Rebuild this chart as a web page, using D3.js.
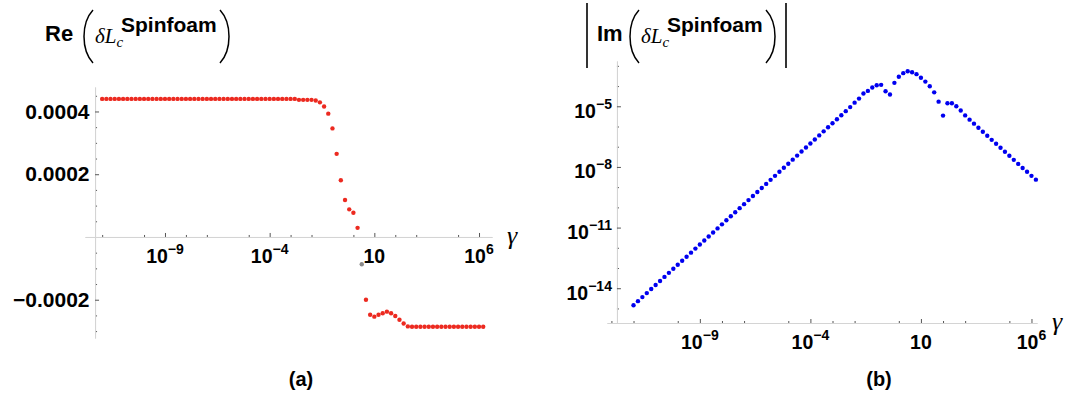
<!DOCTYPE html>
<html>
<head>
<meta charset="utf-8">
<script src="https://cdn.jsdelivr.net/npm/d3@7"></script>
<style>
  body { margin: 0; background: #fff; }
  .domain { stroke: #d4d4d4; }
  .tick line { stroke: #555; }
</style>
</head>
<body>
<div id="chart"></div>
<script>
// sample points: log10(gamma)
const gammaExp = [
  -12, -11.8, -11.6, -11.4, -11.2, -11, -10.8, -10.6, -10.4, -10.2,
  -10, -9.8, -9.6, -9.4, -9.2, -9, -8.8, -8.6, -8.4, -8.2,
  -8, -7.8, -7.6, -7.4, -7.2, -7, -6.8, -6.6, -6.4, -6.2,
  -6, -5.8, -5.6, -5.4, -5.2, -5, -4.8, -4.6, -4.4, -4.2,
  -4, -3.8, -3.6, -3.4, -3.2, -3, -2.8, -2.6, -2.4, -2.2,
  -2, -1.8, -1.6, -1.4, -1.2, -1, -0.8, -0.6, -0.4, -0.2,
  0, 0.2, 0.4, 0.6, 0.8, 1, 1.2, 1.4, 1.6, 1.8,
  2, 2.2, 2.4, 2.6, 2.8, 3, 3.2, 3.4, 3.6, 3.8,
  4, 4.2, 4.4, 4.6, 4.8, 5, 5.2, 5.4, 5.6, 5.8,
  6, 6.2
]

// Re(dL_c) - panel (a)
const reValues = [
  0.000440, 0.000440, 0.000440, 0.000440, 0.000440, 0.000440, 0.000440, 0.000440, 0.000440, 0.000440,
  0.000440, 0.000440, 0.000440, 0.000440, 0.000440, 0.000440, 0.000440, 0.000440, 0.000440, 0.000440,
  0.000440, 0.000440, 0.000440, 0.000440, 0.000440, 0.000440, 0.000440, 0.000440, 0.000440, 0.000440,
  0.000440, 0.000440, 0.000440, 0.000440, 0.000440, 0.000440, 0.000440, 0.000440, 0.000440, 0.000440,
  0.000440, 0.000440, 0.000440, 0.000440, 0.000440, 0.000440, 0.000440, 0.000437, 0.000437, 0.000437,
  0.000437, 0.000435, 0.000429, 0.000416, 0.000393, 0.000346, 0.000265, 0.000181, 0.000118, 0.000088,
  0.000077, 0.000029, null, -0.000200, -0.000248, -0.000254, -0.000248, -0.000243, -0.000238, -0.000243,
  -0.000252, -0.000264, -0.000276, -0.000285, -0.000286, -0.000286, -0.000286, -0.000286, -0.000286, -0.000286,
  -0.000286, -0.000286, -0.000286, -0.000286, -0.000286, -0.000286, -0.000286, -0.000286, -0.000286, -0.000286,
  -0.000286, -0.000286
]
// the one grey point in panel (a)
const reGreyExp = [0.4]
const reGreyValues = [-0.000087]

// log10 |Im(dL_c)| - panel (b)
const imLog10 = [
  -14.84, -14.64, -14.44, -14.24, -14.04, -13.84, -13.64, -13.44, -13.24, -13.04,
  -12.84, -12.64, -12.44, -12.24, -12.04, -11.84, -11.64, -11.44, -11.24, -11.04,
  -10.84, -10.64, -10.44, -10.24, -10.04, -9.84, -9.64, -9.44, -9.24, -9.04,
  -8.84, -8.64, -8.44, -8.24, -8.04, -7.84, -7.64, -7.44, -7.24, -7.04,
  -6.84, -6.64, -6.44, -6.24, -6.04, -5.84, -5.64, -5.44, -5.24, -5.04,
  -4.82, -4.62, -4.37, -4.24, -4.07, -3.96, -3.94, -4.26, -4.42, -3.84,
  -3.54, -3.36, -3.27, -3.32, -3.41, -3.59, -3.78, -4.01, -4.31, -4.77,
  -5.46, -4.85, -4.85, -5.00, -5.21, -5.45, -5.66, -5.86, -6.06, -6.26,
  -6.46, -6.66, -6.85, -7.05, -7.25, -7.45, -7.65, -7.85, -8.05, -8.24,
  -8.44, -8.63
]

// ticks
const xMajorExp = [-9, -4, 1, 6]
const xMinorExp = [-13, -12, -10, -8, -7, -5, -3, -2, 0, 2, 3, 5]
const reMajor = [-0.0002, 0.0002, 0.0004]
const reMinor = [-0.0003, -0.00025, -0.00015, -0.0001, -0.00005, 0.00005, 0.0001, 0.00015, 0.00025, 0.0003, 0.00035, 0.00045]
const imMajorExp = [-14, -11, -8, -5]
const imMinorExp = [-15, -13, -12, -10, -9, -7, -6, -4, -3]

const SANS = '"Liberation Sans", Arial, sans-serif'
const SERIF = '"Liberation Serif", "Times New Roman", serif'
const RED = '#ec2a20'
const BLUE = '#0000f0'

const svg = d3.select('#chart').append('svg')
    .attr('width', 1080)
    .attr('height', 397)
    .style('font-family', SANS)

function powLabel(text, e) {
    text.append('tspan').text('10')
    if (e !== 1) {
        text.append('tspan')
            .attr('font-size', 14)
            .attr('dy', -9)
            .text(e < 0 ? '\u2212' + (-e) : e)
    }
}

function inRange(scale, vals) {
    const [a, b] = scale.domain()
    return vals.filter(v => v >= Math.min(a, b) && v <= Math.max(a, b))
}

function xAxis(x, axisY) {
    const g = svg.append('g').attr('transform', `translate(0, ${axisY})`)
    g.append('g')
        .call(d3.axisBottom(x).tickValues(inRange(x, xMinorExp.map(e => 10 ** e)))
            .tickSizeInner(-2).tickSizeOuter(0).tickFormat(''))
    g.append('g')
        .call(d3.axisBottom(x).tickValues(xMajorExp.map(e => 10 ** e))
            .tickSizeInner(-4).tickSizeOuter(0).tickFormat(''))
    g.selectAll('.tick text').remove()

    g.selectAll('text.xl')
        .data(xMajorExp)
        .join('text')
            .attr('class', 'xl')
            .attr('x', d => x(10 ** d))
            .attr('y', 26)
            .attr('text-anchor', 'middle')
            .attr('font-size', 19.5)
            .attr('font-weight', 'bold')
            .each(function(d) { powLabel(d3.select(this), d) })

    g.append('text')
        .attr('x', x.range()[1] + 15)
        .attr('y', 7)
        .attr('font-family', SERIF)
        .attr('font-style', 'italic')
        .attr('font-size', 26)
        .text('\u03b3')
}

function title(x0, label, bars) {
    const g = svg.append('g').attr('fill', '#000')
    const w = label === 'Re' ? 27 : 21
    g.append('text')
        .attr('x', x0).attr('y', 41)
        .attr('font-size', 22).attr('font-weight', 'bold')
        .text(label)
    const p = x0 + w + 9
    g.append('path')
        .attr('d', `M${p + 12},10 C${p},23 ${p},50 ${p + 12},63`)
        .attr('fill', 'none').attr('stroke', '#000').attr('stroke-width', 1.5)
    const t = g.append('text').attr('x', p + 14).attr('y', 43)
        .attr('font-family', SERIF).attr('font-style', 'italic').attr('font-size', 21)
    t.append('tspan').text('\u03b4L')
    t.append('tspan').attr('font-size', 15).attr('dy', 4).text('c')
    g.append('text')
        .attr('x', p + 40).attr('y', 32)
        .attr('font-size', 21).attr('font-weight', 'bold')
        .text('Spinfoam')
    const q = p + 139
    g.append('path')
        .attr('d', `M${q},10 C${q + 12},23 ${q + 12},50 ${q},63`)
        .attr('fill', 'none').attr('stroke', '#000').attr('stroke-width', 1.5)
    if (bars) {
        g.append('line').attr('x1', x0 - 10).attr('x2', x0 - 10).attr('y1', 3).attr('y2', 68)
            .attr('stroke', '#000').attr('stroke-width', 1.6)
        g.append('line').attr('x1', q + 20).attr('x2', q + 20).attr('y1', 3).attr('y2', 68)
            .attr('stroke', '#000').attr('stroke-width', 1.6)
    }
}

// ---------- panel (a) ----------
function panelA() {
    const x = d3.scaleLog().domain([10 ** -12.82, 10 ** 6.62]).range([85, 492])
    const y = d3.scaleLinear().domain([-0.000322, 0.000478]).range([338, 87])
    const axisX = x(10 ** -12.34)

    xAxis(x, y(0))

    const g = svg.append('g').attr('transform', `translate(${axisX}, 0)`)
    g.append('g')
        .call(d3.axisLeft(y).tickValues(reMinor).tickSizeInner(-2).tickSizeOuter(0).tickFormat(''))
    g.append('g')
        .call(d3.axisLeft(y).tickValues(reMajor).tickSizeInner(-4).tickSizeOuter(0)
            .tickPadding(5.5).tickFormat(d => d3.format('.4f')(d).replace('-', '\u2212')))
    g.selectAll('.tick text')
        .attr('font-size', 21)
        .attr('font-weight', 'bold')
        .attr('font-family', SANS)
        .attr('fill', '#000')

    const pts = gammaExp.map((e, i) => ({ g: 10 ** e, v: reValues[i] })).filter(d => d.v !== null)
    svg.append('g').selectAll('circle')
        .data(pts)
        .join('circle')
            .attr('cx', d => x(d.g))
            .attr('cy', d => y(d.v))
            .attr('r', 2.2)
            .attr('fill', RED)

    svg.append('g').selectAll('circle')
        .data(reGreyExp.map((e, i) => ({ g: 10 ** e, v: reGreyValues[i] })))
        .join('circle')
            .attr('cx', d => x(d.g))
            .attr('cy', d => y(d.v))
            .attr('r', 2.2)
            .attr('fill', '#8a8a8a')

    title(45, 'Re', false)
}

// ---------- panel (b) ----------
function panelB() {
    const x = d3.scaleLog().domain([10 ** -13.2, 10 ** 6.25]).range([607, 1037])
    const y = d3.scaleLog().domain([10 ** -15.72, 10 ** -2.76]).range([323, 61])
    const axisX = x(10 ** -12.75)

    xAxis(x, 323)

    const g = svg.append('g').attr('transform', `translate(${axisX}, 0)`)
    g.append('g')
        .call(d3.axisLeft(y).tickValues(imMinorExp.map(e => 10 ** e))
            .tickSizeInner(-2).tickSizeOuter(0).tickFormat(''))
    g.append('g')
        .call(d3.axisLeft(y).tickValues(imMajorExp.map(e => 10 ** e))
            .tickSizeInner(-4).tickSizeOuter(0).tickFormat(''))
    g.selectAll('.tick text').remove()
    g.selectAll('text.yl')
        .data(imMajorExp)
        .join('text')
            .attr('class', 'yl')
            .attr('x', -5)
            .attr('y', d => y(10 ** d) + 11.5)
            .attr('text-anchor', 'end')
            .attr('font-size', 19.5)
            .attr('font-weight', 'bold')
            .each(function(d) { powLabel(d3.select(this), d) })

    svg.append('g').selectAll('circle')
        .data(gammaExp.map((e, i) => ({ g: 10 ** e, v: 10 ** imLog10[i] })))
        .join('circle')
            .attr('cx', d => x(d.g))
            .attr('cy', d => y(d.v))
            .attr('r', 2.2)
            .attr('fill', BLUE)

    title(597, 'Im', true)
}

panelA()
panelB()

svg.selectAll('text.cap')
    .data(['(a)', '(b)'])
    .join('text')
        .attr('class', 'cap')
        .attr('x', (d, i) => i ? 879 : 301)
        .attr('y', 386)
        .attr('text-anchor', 'middle')
        .attr('font-size', 20)
        .attr('font-weight', 'bold')
        .text(d => d)
</script>
</body>
</html>
